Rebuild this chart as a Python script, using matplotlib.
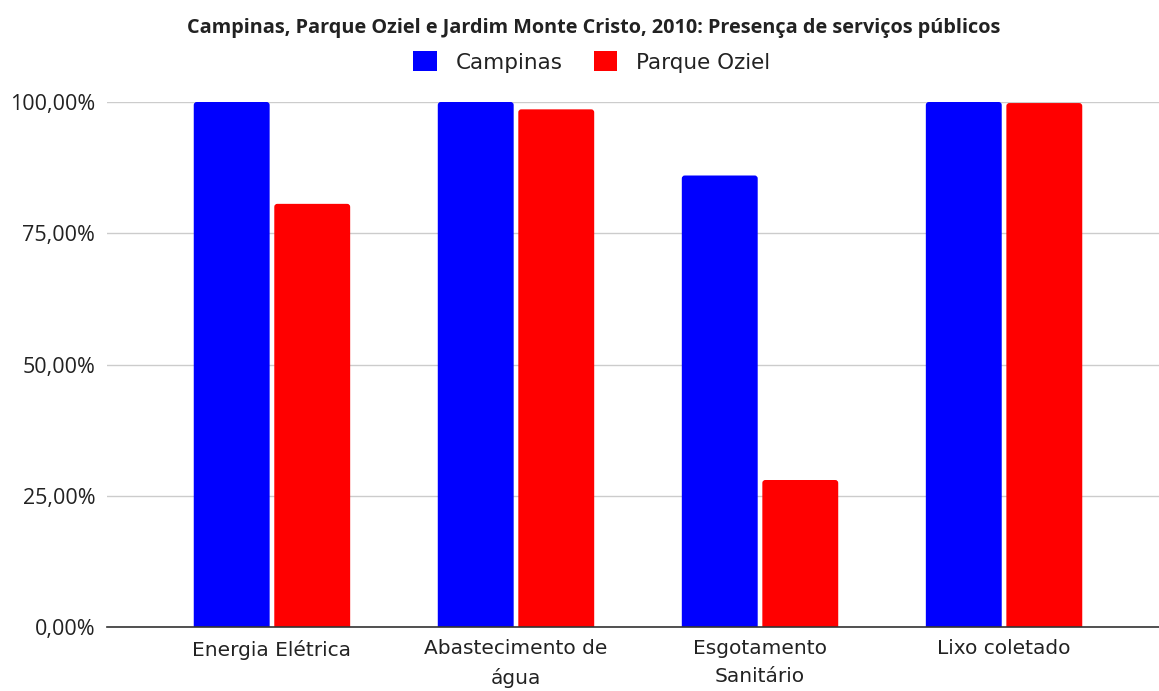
import matplotlib
matplotlib.use("Agg")
import matplotlib.pyplot as plt
from matplotlib.patches import FancyBboxPatch
import numpy as np

categories = ["Energia Elétrica", "Abastecimento de\nágua", "Esgotamento\nSanitário", "Lixo coletado"]
series_names = ["Campinas", "Parque Oziel"]
campinas = [100.0, 100.0, 86.0, 100.0]
parque_oziel = [80.6, 98.6, 28.0, 99.8]
yticks = [0, 25, 50, 75, 100]
ytick_labels = ["0,00%", "25,00%", "50,00%", "75,00%", "100,00%"]
title = "Campinas, Parque Oziel e Jardim Monte Cristo, 2010: Presença de serviços públicos"

W, H = 1159, 691
fig = plt.figure(figsize=(W / 100, H / 100), dpi=100)
ax = fig.add_axes([107 / W, (H - 627) / H, (1159 - 107) / W, 525 / H])

x = np.arange(len(categories))
bw = 0.311
off = 0.165
colors = ["#0000ff", "#ff0000"]
xlim = (-0.676, 3.635)
ylim = (0, 100)
ax.set_xlim(*xlim)
ax.set_ylim(*ylim)

px_x = (xlim[1] - xlim[0]) / 1052.0
px_y = (ylim[1] - ylim[0]) / 525.0
r = 3.0
for vals, o, c, name in [(campinas, -off, colors[0], series_names[0]),
                         (parque_oziel, off, colors[1], series_names[1])]:
    bars = ax.bar(x + o, vals, width=bw, color=c, label=name, zorder=3)
    for b in bars:
        b.set_visible(False)
        p = FancyBboxPatch((b.get_x(), -2), b.get_width(), b.get_height() + 2,
                           boxstyle=f"round,pad=0,rounding_size={r * px_x}",
                           mutation_aspect=px_y / px_x, facecolor=c, edgecolor="none",
                           zorder=3, clip_on=True)
        ax.add_patch(p)

ax.set_yticks(yticks)
ax.set_yticklabels(ytick_labels, fontsize=15.5, color="#222222", family="Open Sans")
ax.set_xticks(x)
ax.set_xticklabels(categories, fontsize=14.5, color="#222222", family="DejaVu Sans")
for lab in ax.get_xticklabels():
    lab.set_linespacing(1.6)
ax.tick_params(axis="both", length=0)
ax.tick_params(axis="y", pad=8.5)
ax.tick_params(axis="x", pad=9)
ax.grid(axis="y", color="#cccccc", linewidth=1, zorder=0)
for s in ["top", "right", "left"]:
    ax.spines[s].set_visible(False)
ax.spines["bottom"].set_color("#333333")
ax.spines["bottom"].set_linewidth(1.2)
ax.spines["bottom"].set_zorder(4)

fig.text(594 / W, 1 - 28 / H, title, ha="center", va="center", fontsize=14.3,
         fontweight="bold", family="Open Sans", color="#222222")
handles = [plt.Rectangle((0, 0), 1, 1, facecolor=c) for c in colors]
leg = fig.legend(handles, series_names, loc="center", bbox_to_anchor=(591.5 / W, 1 - 62 / H), ncol=2,
                 frameon=False, prop={"family": "DejaVu Sans", "size": 15.5},
                 handlelength=1.1, handleheight=1.05, columnspacing=1.45, handletextpad=0.85)
for t in leg.get_texts():
    t.set_color("#222222")

fig.savefig("out.png", dpi=100, facecolor="white")
